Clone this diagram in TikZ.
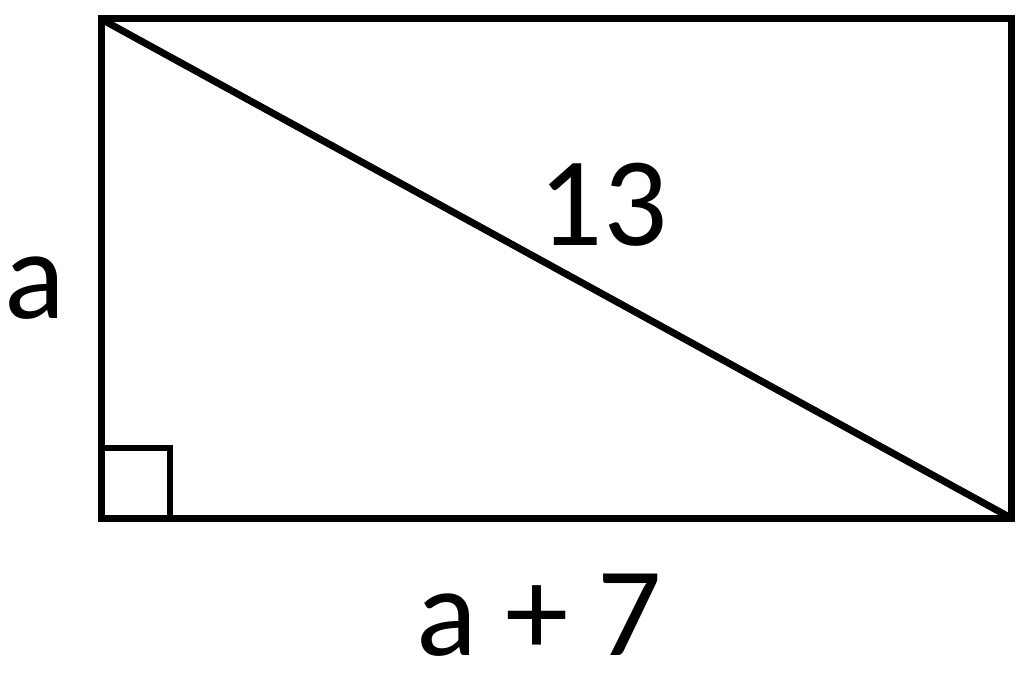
\documentclass[tikz,border=0pt]{standalone}
\usepackage{fontspec}
\setmainfont{Carlito}
\begin{document}
\begin{tikzpicture}[x=1pt,y=-1pt,
  edge/.style={line width=7pt,line join=miter,line cap=rect},
  lbl/.style={anchor=base,inner sep=0pt,text depth=0pt,font=\fontsize{127}{150}\selectfont}]
\useasboundingbox[fill=white] (0,0) rectangle (1024,674);
\coordinate (tl) at (101,19);
\coordinate (tr) at (1011,19);
\coordinate (br) at (1011,518);
\coordinate (bl) at (101,518);
\draw[edge] (tl) -- (tr) -- (br) -- (bl) -- cycle;
\draw[edge,line cap=butt] (tl) -- (br);
\coordinate (sq1) at (101,448);
\coordinate (sq2) at (170,448);
\coordinate (sq3) at (170,518);
\draw[edge,line width=6pt] (sq1) -- (sq2) -- (sq3);
\node[lbl] (la) at (35,318) {a};
\node[lbl] (ld) at (603,245) {13};
\node[lbl] (lb) at (539,655) {a + 7};
\end{tikzpicture}
\end{document}
